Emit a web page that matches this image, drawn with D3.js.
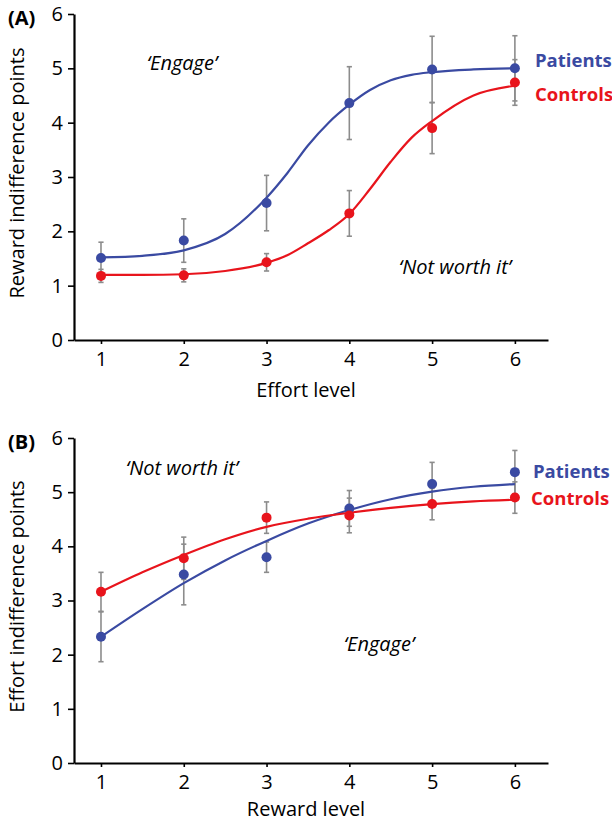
<!DOCTYPE html>
<html><head><meta charset="utf-8">
<script src="https://cdn.jsdelivr.net/npm/d3@7"></script>
<style>
html,body{margin:0;padding:0;background:#fff;}
svg{display:block;font-family:"Open Sans",sans-serif;}
</style></head>
<body>
<svg id="chart" width="612" height="824"></svg>
<script>
// ---------- data ----------
const levels = [1, 2, 3, 4, 5, 6];
const yTicks = [0, 1, 2, 3, 4, 5, 6];

// Panel A: reward indifference points vs effort level
const aPatients = [1.51, 1.83, 2.52, 4.36, 4.98, 5.00];
const aPatientsErr = [0.29, 0.40, 0.51, 0.67, 0.61, 0.60];
const aControls = [1.18, 1.19, 1.43, 2.33, 3.90, 4.74];
const aControlsErr = [0.12, 0.12, 0.16, 0.42, 0.47, 0.42];
// fitted curves
const aFitX = [1, 1.5, 2, 2.5, 3, 3.25, 3.5, 3.75, 4, 4.25, 4.5, 4.75, 5, 5.5, 6];
const aPatientsFit = [1.52, 1.55, 1.65, 1.95, 2.62, 3.07, 3.58, 4.00, 4.33, 4.60, 4.78, 4.88, 4.93, 4.98, 5.00];
const aControlsFit = [1.20, 1.20, 1.21, 1.27, 1.42, 1.56, 1.78, 2.02, 2.32, 2.78, 3.28, 3.72, 4.03, 4.50, 4.68];

// Panel B: effort indifference points vs reward level
const bPatients = [2.33, 3.48, 3.80, 4.70, 5.15, 5.37];
const bPatientsErr = [0.46, 0.56, 0.28, 0.33, 0.40, 0.40];
const bControls = [3.16, 3.78, 4.53, 4.57, 4.78, 4.90];
const bControlsErr = [0.36, 0.39, 0.29, 0.32, 0.29, 0.29];
const bFitX = [1, 1.5, 2, 2.5, 3, 3.5, 4, 4.5, 5, 5.5, 6];
const bPatientsFit = [2.33, 2.84, 3.32, 3.74, 4.10, 4.42, 4.67, 4.87, 5.01, 5.10, 5.15];
const bControlsFit = [3.16, 3.52, 3.84, 4.13, 4.36, 4.51, 4.62, 4.71, 4.78, 4.83, 4.86];

const BLUE = "#3a4aa2", RED = "#e8141c", GREY = "#8c8c8c";

const svg = d3.select("#chart");

function panel(cfg) {
  const x = d3.scaleLinear().domain([0.674, 6.4]).range([74, 548]);
  const y = d3.scaleLinear().domain([0, 6]).range([cfg.bottom, cfg.top]);
  const g = svg.append("g");
  const fmt = d3.format("d");

  // y axis
  const ya = g.append("g").attr("transform", "translate(74,0)")
    .call(d3.axisLeft(y).tickValues(yTicks).tickFormat(fmt).tickSize(6).tickSizeOuter(0).tickPadding(5));
  ya.select(".domain").attr("stroke-width", 2.2).attr("stroke", "#000");
  ya.selectAll(".tick line").attr("stroke-width", 1.6);
  ya.selectAll(".tick text").attr("font-size", 20).attr("fill", "#000")
    .attr("font-family", "Open Sans");

  // x axis
  const xa = g.append("g").attr("transform", `translate(0,${cfg.bottom})`)
    .call(d3.axisBottom(x).tickValues(levels).tickFormat(fmt).tickSize(4).tickSizeOuter(0).tickPadding(8));
  xa.select(".domain").attr("stroke-width", 2.2).attr("stroke", "#000");
  xa.selectAll(".tick line").attr("stroke-width", 1.6);
  xa.selectAll(".tick text").attr("font-size", 20).attr("fill", "#000")
    .attr("font-family", "Open Sans");

  // axis titles
  g.append("text").attr("x", 306).attr("y", cfg.xTitleY).attr("text-anchor", "middle")
    .attr("font-size", 20).text(cfg.xTitle);
  g.append("text").attr("transform", `translate(24,${(cfg.top + cfg.bottom) / 2 - 4}) rotate(-90)`)
    .attr("text-anchor", "middle").attr("font-size", 20).text(cfg.yTitle);

  // panel letter
  g.append("text").attr("x", 8).attr("y", cfg.top + 11).attr("font-size", 20)
    .attr("font-weight", "bold").text(cfg.letter);

  const line = d3.line().x(d => x(d[0])).y(d => y(d[1])).curve(d3.curveMonotoneX);

  cfg.series.forEach(s => {
    const eb = g.append("g").attr("stroke", GREY).attr("stroke-width", 1.6);
    levels.forEach((lv, i) => {
      const hi = y(s.vals[i] + s.err[i]), lo = y(s.vals[i] - s.err[i]), cx = x(lv);
      eb.append("line").attr("x1", cx).attr("x2", cx).attr("y1", hi).attr("y2", lo);
      eb.append("line").attr("x1", cx - 2.6).attr("x2", cx + 2.6).attr("y1", hi).attr("y2", hi);
      eb.append("line").attr("x1", cx - 2.6).attr("x2", cx + 2.6).attr("y1", lo).attr("y2", lo);
    });
  });
  cfg.series.forEach(s => {
    g.append("path").datum(cfg.fitX.map((v, i) => [v, s.fit[i]]))
      .attr("d", line).attr("fill", "none").attr("stroke", s.color).attr("stroke-width", 2.2);
  });
  cfg.series.forEach(s => {
    g.append("g").selectAll("circle").data(levels).join("circle")
      .attr("cx", d => x(d)).attr("cy", (d, i) => y(s.vals[i])).attr("r", 5)
      .attr("fill", s.color);
    g.append("text").attr("x", s.labelX).attr("y", s.labelY).attr("font-size", 18.5)
      .attr("font-weight", "bold").attr("fill", s.color).text(s.name);
  });

  cfg.notes.forEach(n => {
    g.append("text").attr("x", n.x).attr("y", n.y).attr("text-anchor", "middle")
      .attr("font-size", 20).attr("font-style", "italic").text(n.t);
  });
}

panel({
  top: 14, bottom: 340, letter: "(A)",
  xTitle: "Effort level", xTitleY: 397,
  yTitle: "Reward indifference points",
  fitX: aFitX,
  series: [
    { name: "Patients", color: BLUE, vals: aPatients, err: aPatientsErr, fit: aPatientsFit, labelX: 535, labelY: 67 },
    { name: "Controls", color: RED, vals: aControls, err: aControlsErr, fit: aControlsFit, labelX: 535, labelY: 101 }
  ],
  notes: [{ t: "\u2018Engage\u2019", x: 182, y: 70 }, { t: "\u2018Not worth it\u2019", x: 455, y: 274 }]
});

panel({
  top: 438, bottom: 763, letter: "(B)",
  xTitle: "Reward level", xTitleY: 816,
  yTitle: "Effort indifference points",
  fitX: bFitX,
  series: [
    { name: "Patients", color: BLUE, vals: bPatients, err: bPatientsErr, fit: bPatientsFit, labelX: 533, labelY: 478 },
    { name: "Controls", color: RED, vals: bControls, err: bControlsErr, fit: bControlsFit, labelX: 531, labelY: 505 }
  ],
  notes: [{ t: "\u2018Not worth it\u2019", x: 182, y: 475 }, { t: "\u2018Engage\u2019", x: 379, y: 651 }]
});
</script>
</body></html>
